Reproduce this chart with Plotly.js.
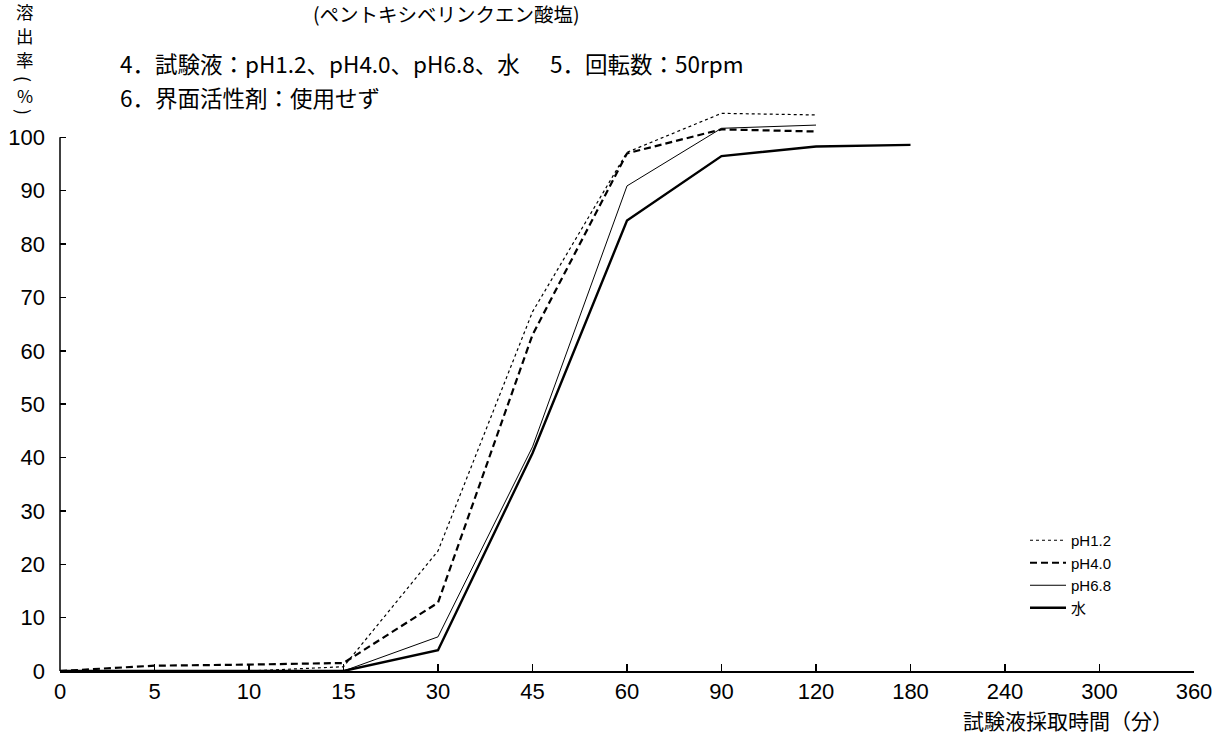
<!DOCTYPE html>
<html>
<head>
<meta charset="utf-8">
<script src="https://cdn.plot.ly/plotly-3.0.1.min.js"></script>
<style>
  html, body { margin: 0; padding: 0; background: #fff; }
  #chart { width: 1222px; height: 743px; }
</style>
</head>
<body>
<div id="chart"></div>
<script>
// ---- data ----
const timeLabels = ['0', '5', '10', '15', '30', '45', '60', '90', '120', '180', '240', '300', '360'];
const seriesNames = ['pH1.2', 'pH4.0', 'pH6.8', '水'];
const pH12 = [0, 0, 0, 0.8, 22.5, 67.3, 97.2, 104.5, 104.2];
const pH40 = [0, 1.0, 1.2, 1.5, 12.8, 63.0, 97.0, 101.5, 101.1];
const pH68 = [0, 0, 0, 0, 6.4, 42.0, 90.9, 101.7, 102.3];
const water = [0, 0, 0, 0, 3.9, 40.8, 84.4, 96.5, 98.3, 98.6];
const yTicks = [0, 10, 20, 30, 40, 50, 60, 70, 80, 90, 100];

const subtitle = '(ペントキシベリンクエン酸塩)';
const line4a = '4．試験液：pH1.2、pH4.0、pH6.8、水';
const line4b = '5．回転数：50rpm';
const line6 = '6．界面活性剤：使用せず';
const yTitleChars = ['溶', '出', '率', '(', '%', ')'];
const xTitle = '試験液採取時間（分）';

// ---- styles ----
const numFont = 'Liberation Sans, Arial, sans-serif';
const jpFont = 'Noto Sans CJK JP, sans-serif';
const legFont = 'Liberation Sans, Noto Sans CJK JP, sans-serif';

const seriesData = [pH12, pH40, pH68, water];
const lineStyles = [
  {color: '#000', width: 1.2, dash: 'dot'},
  {color: '#000', width: 2.2, dash: '7px,4px'},
  {color: '#000', width: 1.0, dash: 'solid'},
  {color: '#000', width: 2.4, dash: 'solid'}
];

const traces = seriesData.map((vals, i) => ({
  type: 'scatter',
  mode: 'lines',
  name: seriesNames[i],
  x: timeLabels.slice(0, vals.length),
  y: vals,
  line: lineStyles[i],
  hoverinfo: 'skip'
}));

// plot area geometry (px) for placing text
const L = 60, R = 28, T = 84, B = 72;
const W = 1222 - L - R, H = 743 - T - B;
const px = x => (x - L) / W;
const py = y => (743 - B - y) / H;

const jp = (size) => ({family: jpFont, size: size, color: '#000'});
const annotations = [
  {text: subtitle, x: px(311), y: py(13), xanchor: 'left', yanchor: 'middle', font: jp(19.5)},
  {text: line4a, x: px(118), y: py(63), xanchor: 'left', yanchor: 'middle', font: jp(22.5)},
  {text: line4b, x: px(548), y: py(63), xanchor: 'left', yanchor: 'middle', font: jp(22.5)},
  {text: line6, x: px(118), y: py(97), xanchor: 'left', yanchor: 'middle', font: jp(22.5)},
  {text: xTitle, x: px(1175), y: py(720), xanchor: 'right', yanchor: 'middle', font: jp(21)}
];
// vertical y-axis title: upright characters, brackets turned 90°
const yCharPos = [12, 36, 60, 79, 95, 112];
const yCharAngle = [0, 0, 0, 90, 0, 90];
yTitleChars.forEach((c, i) => {
  annotations.push({text: c, x: px(25), y: py(yCharPos[i]), xanchor: 'center', yanchor: 'middle',
    textangle: yCharAngle[i], font: jp(17.5)});
});
annotations.forEach(a => { a.xref = 'paper'; a.yref = 'paper'; a.showarrow = false; });

const layout = {
  width: 1222, height: 743,
  margin: {l: L, r: R, t: T, b: B, pad: 0},
  paper_bgcolor: '#fff', plot_bgcolor: '#fff',
  showlegend: true,
  legend: {
    x: px(1025), y: py(524), xanchor: 'left', yanchor: 'top',
    font: {family: legFont, size: 15, color: '#000'},
    bgcolor: 'rgba(0,0,0,0)', itemwidth: 36, tracegroupgap: 0,
    traceorder: 'normal'
  },
  xaxis: {
    type: 'category', categoryorder: 'array', categoryarray: timeLabels,
    range: [0, timeLabels.length - 1],
    showgrid: false, zeroline: false,
    showline: true, linecolor: '#000', linewidth: 1.5,
    ticks: 'inside', ticklen: 7, tickcolor: '#000', tickwidth: 1.5,
    tickfont: {family: numFont, size: 22, color: '#000'},
    fixedrange: true
  },
  yaxis: {
    range: [0, 110],
    tickvals: yTicks, ticktext: yTicks.map(String),
    showgrid: false, zeroline: false, showline: false,
    ticks: 'inside', ticklen: 6, tickcolor: '#000', tickwidth: 1.5,
    tickfont: {family: numFont, size: 22, color: '#000'},
    ticklabelstandoff: 14,
    fixedrange: true
  },
  shapes: [
    {type: 'line', xref: 'paper', yref: 'y', x0: 0, x1: 0, y0: yTicks[0], y1: yTicks[yTicks.length - 1],
     line: {color: '#000', width: 1.5}}
  ],
  annotations: annotations
};

Plotly.newPlot('chart', traces, layout, {displayModeBar: false, staticPlot: true});
</script>
</body>
</html>
